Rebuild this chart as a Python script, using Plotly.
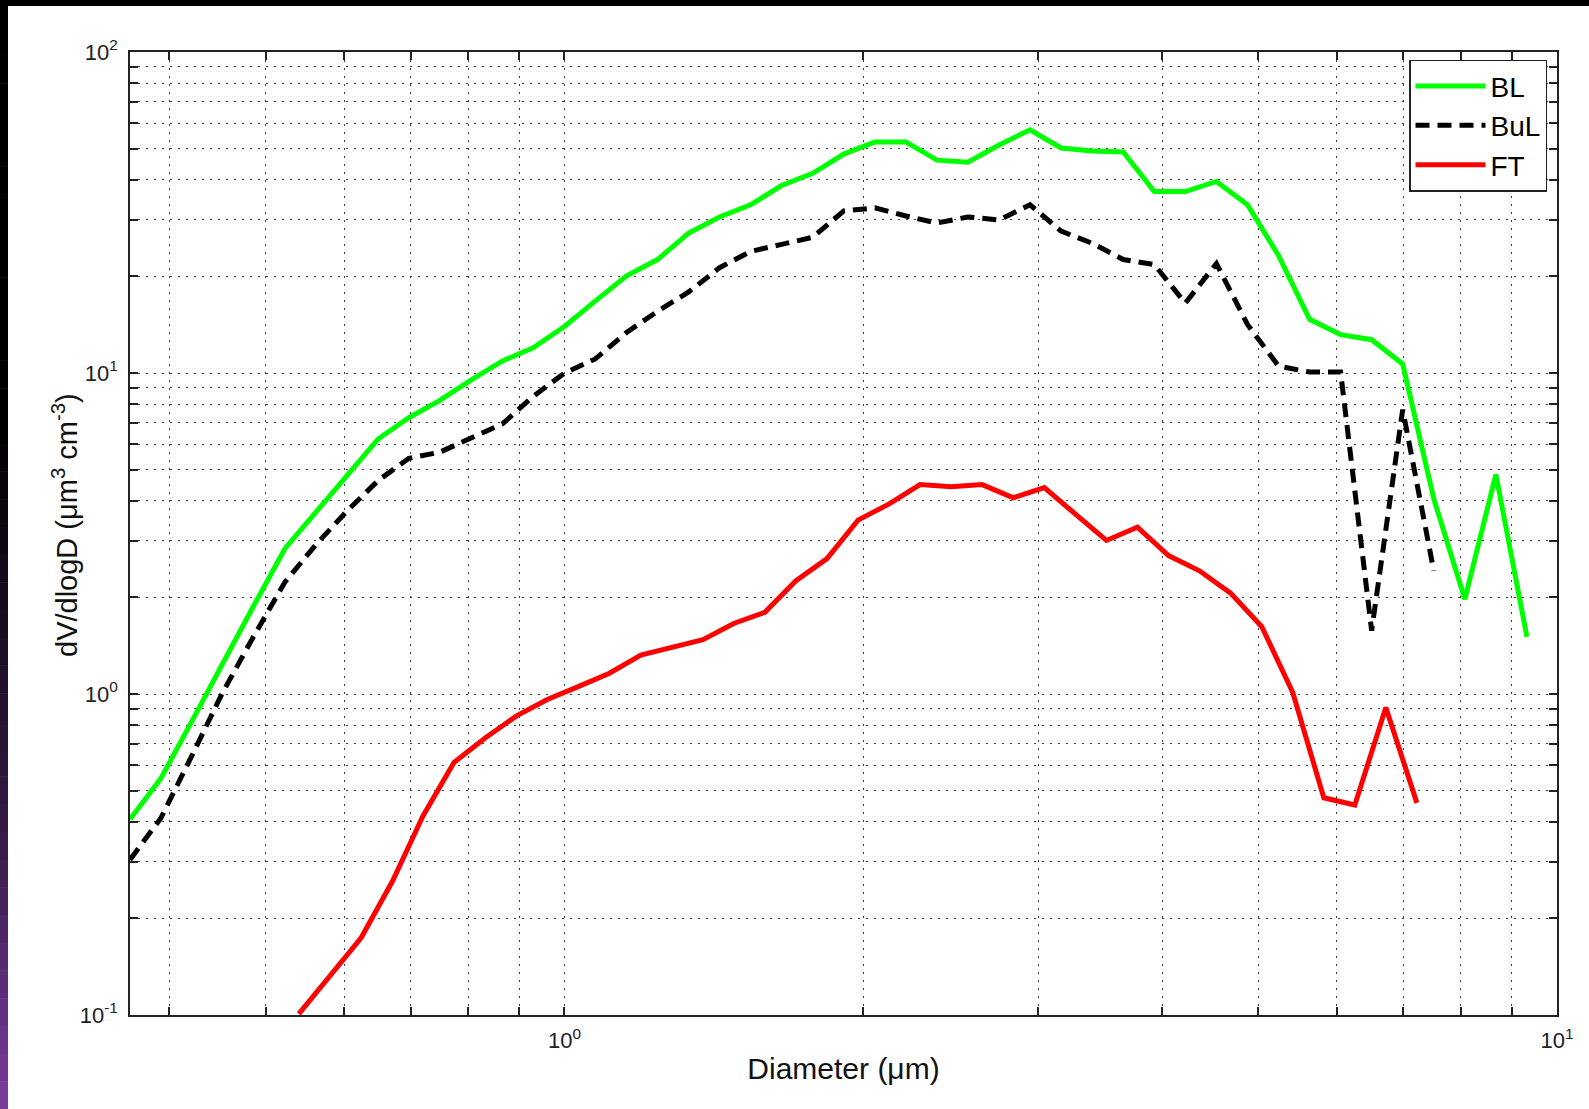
import plotly.graph_objects as go

# ---------------- data ----------------
diameter_bl = [0.365, 0.392, 0.421, 0.452, 0.486, 0.523, 0.562, 0.604, 0.649, 0.697,
               0.749, 0.805, 0.866, 0.930, 1.000, 1.074, 1.155, 1.241, 1.334, 1.433,
               1.540, 1.655, 1.779, 1.912, 2.055, 2.208, 2.373, 2.550, 2.741, 2.945,
               3.165, 3.402, 3.656, 3.929, 4.222, 4.538, 4.877, 5.241, 5.633, 6.053,
               6.505, 6.991, 7.514, 8.075, 8.678, 9.326]
bl_values = [0.407, 0.545, 0.819, 1.239, 1.876, 2.840, 3.690, 4.795, 6.228, 7.255,
             8.212, 9.497, 10.90, 11.98, 13.96, 16.75, 20.09, 22.56, 27.27, 30.63,
             33.42, 38.37, 41.88, 48.08, 52.47, 52.47, 46.03, 45.37, 51.33, 57.25,
             50.22, 49.13, 48.78, 36.74, 36.74, 39.51, 33.42, 23.23, 14.70, 13.17,
             12.70, 10.67, 4.055, 1.974, 4.83, 1.508]

diameter_bul = [0.365, 0.392, 0.421, 0.452, 0.486, 0.523, 0.562, 0.604, 0.649, 0.697,
                0.749, 0.805, 0.866, 0.930, 1.000, 1.074, 1.155, 1.241, 1.334, 1.433,
                1.540, 1.655, 1.779, 1.912, 2.055, 2.208, 2.373, 2.550, 2.741, 2.945,
                3.165, 3.402, 3.656, 3.929, 4.222, 4.538, 4.877, 5.241, 5.633, 6.053,
                6.505, 6.991, 7.514]
bul_values = [0.3045, 0.410, 0.639, 1.004, 1.508, 2.234, 2.924, 3.717, 4.622, 5.425,
              5.667, 6.273, 6.947, 8.453, 9.99, 11.06, 13.37, 15.57, 17.88, 21.29,
              23.92, 25.17, 26.48, 31.99, 32.69, 30.85, 29.32, 30.63, 29.97, 33.42,
              27.67, 25.35, 22.56, 21.76, 16.51, 21.92, 14.17, 10.51, 10.07, 10.07,
              1.575, 7.69, 2.42]

diameter_ft = [0.540, 0.581, 0.624, 0.671, 0.720, 0.774, 0.832, 0.895, 0.961, 1.034,
               1.110, 1.194, 1.283, 1.379, 1.481, 1.592, 1.710, 1.839, 1.976, 2.124,
               2.282, 2.453, 2.635, 2.833, 3.044, 3.271, 3.516, 3.778, 4.061, 4.363,
               4.690, 5.040, 5.417, 5.822, 6.256, 6.723, 7.225]
ft_values = [0.1008, 0.132, 0.174, 0.261, 0.416, 0.612, 0.729, 0.855, 0.961, 1.056,
             1.161, 1.323, 1.403, 1.476, 1.658, 1.796, 2.250, 2.641, 3.480, 3.910,
             4.490, 4.425, 4.490, 4.086, 4.393, 3.637, 3.009, 3.308, 2.699, 2.420,
             2.062, 1.623, 1.011, 0.475, 0.451, 0.907, 0.458]

x_major_ticks = [1, 10]
x_major_labels = ["10<sup>0</sup>", "10<sup>1</sup>"]
x_minor_ticks = [0.4, 0.5, 0.6, 0.7, 0.8, 0.9, 2, 3, 4, 5, 6, 7, 8, 9]
y_major_ticks = [0.1, 1, 10, 100]
y_major_labels = ["10<sup>-1</sup>", "10<sup>0</sup>", "10<sup>1</sup>", "10<sup>2</sup>"]
y_minor_ticks = [0.2, 0.3, 0.4, 0.5, 0.6, 0.7, 0.8, 0.9, 2, 3, 4, 5, 6, 7, 8, 9,
                 20, 30, 40, 50, 60, 70, 80, 90]

x_title = "Diameter (μm)"
y_title = "dV/dlogD (μm<sup>3</sup> cm<sup>-3</sup>)"

# ---------------- figure ----------------
FONT = "Liberation Sans, Arial, Helvetica, sans-serif"
W, H = 1589, 1109
ML, MR, MT, MB = 130, 32, 52, 94

fig = go.Figure()
fig.add_trace(go.Scatter(x=diameter_bl, y=bl_values, mode="lines", name="BL",
                         line=dict(color="#00ff00", width=5)))
fig.add_trace(go.Scatter(x=diameter_bul, y=bul_values, mode="lines", name="BuL",
                         line=dict(color="#000000", width=5, dash="14px,8px")))
fig.add_trace(go.Scatter(x=diameter_ft, y=ft_values, mode="lines", name="FT",
                         line=dict(color="#ff0000", width=5)))

grid_kw = dict(gridcolor="rgba(40,40,40,0.9)", gridwidth=1, griddash="1.5px,6.5px")

common_axis = dict(
    type="log", showline=True, linecolor="#222222", linewidth=1.5,
    mirror="ticks", ticks="inside", ticklen=8, tickwidth=1.5, tickcolor="#222222",
    showgrid=True, zeroline=False,
    tickfont=dict(family=FONT, size=22, color="#222222"),
    **grid_kw,
)

fig.update_xaxes(
    range=[-0.4377, 1.0],
    tickmode="array", tickvals=x_major_ticks, ticktext=x_major_labels,
    ticklabelstandoff=5,
    minor=dict(tickmode="array", tickvals=x_minor_ticks, ticks="inside", ticklen=8,
               tickwidth=1.5, tickcolor="#222222", showgrid=True, **grid_kw),
    title=dict(text=x_title, font=dict(family=FONT, size=30, color="#111111"),
               standoff=6),
    **common_axis,
)
fig.update_yaxes(
    range=[-1, 2],
    tickmode="array", tickvals=y_major_ticks, ticktext=y_major_labels,
    ticklabelstandoff=6,
    minor=dict(tickmode="array", tickvals=y_minor_ticks, ticks="inside", ticklen=8,
               tickwidth=1.5, tickcolor="#222222", showgrid=True, **grid_kw),
    **common_axis,
)

pw = W - ML - MR
ph = H - MT - MB
def px_x(p):
    return (p - ML) / pw
def px_y(p):
    return (H - MB - p) / ph

# y-axis title placed as a rotated annotation (matches the reference position)
fig.add_annotation(text=y_title, xref="paper", yref="paper",
                   x=px_x(65), y=px_y(525), xanchor="center", yanchor="middle",
                   textangle=-90, showarrow=False,
                   font=dict(family=FONT, size=29, color="#111111"))

# screenshot border (black top band, black-to-purple left band)
shapes = [dict(type="rect", xref="paper", yref="paper", x0=px_x(0), x1=px_x(W),
               y0=px_y(6), y1=px_y(0), fillcolor="#000000", line=dict(width=0),
               layer="above")]
stops = [(0, (0, 0, 0)), (420, (0, 0, 0)), (750, (42, 21, 53)), (900, (69, 33, 90)),
         (1109, (125, 61, 159))]
nseg = 40
for k in range(nseg):
    y0 = H * k / nseg
    y1 = H * (k + 1) / nseg
    ym = (y0 + y1) / 2
    for a in range(len(stops) - 1):
        if stops[a][0] <= ym <= stops[a + 1][0]:
            t = (ym - stops[a][0]) / (stops[a + 1][0] - stops[a][0])
            c = tuple(int(round(stops[a][1][i] + t * (stops[a + 1][1][i] - stops[a][1][i])))
                      for i in range(3))
            break
    shapes.append(dict(type="rect", xref="paper", yref="paper",
                       x0=px_x(0), x1=px_x(8), y0=px_y(y1 + 0.5), y1=px_y(y0),
                       fillcolor="rgb(%d,%d,%d)" % c, line=dict(width=0), layer="above"))

fig.update_layout(
    width=W, height=H,
    margin=dict(l=ML, r=MR, t=MT, b=MB, pad=0),
    paper_bgcolor="white", plot_bgcolor="white",
    font=dict(family=FONT, color="#111111"),
    showlegend=True,
    legend=dict(x=0.993, y=0.992, xanchor="right", yanchor="top",
                bgcolor="white", bordercolor="#222222", borderwidth=1.5,
                font=dict(family=FONT, size=28, color="#000000"),
                itemwidth=70, tracegroupgap=0),
    shapes=shapes,
)

fig.write_html("out.html")
